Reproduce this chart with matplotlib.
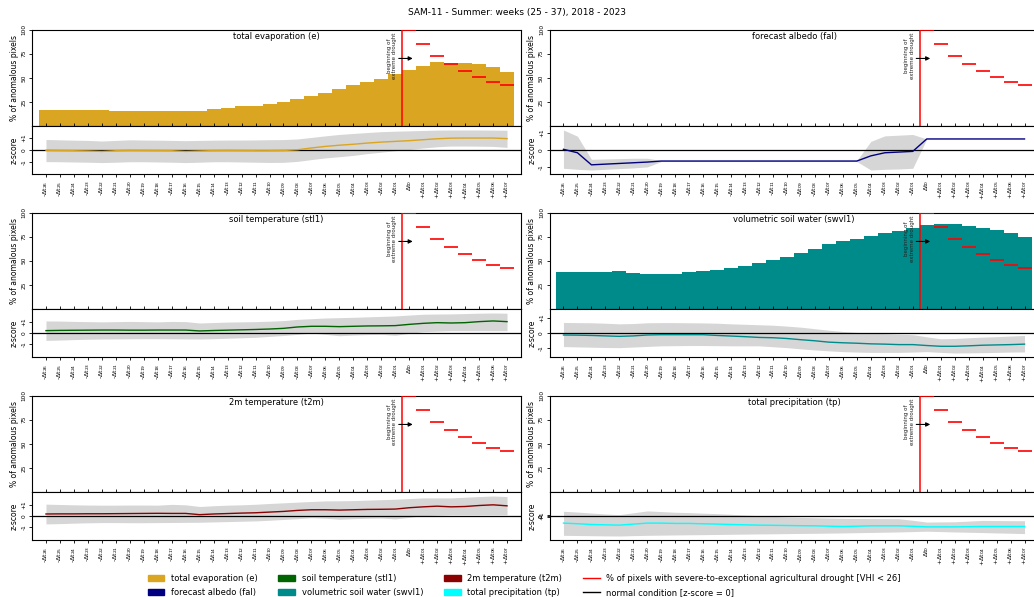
import matplotlib
matplotlib.use("Agg")
import matplotlib.pyplot as plt
from matplotlib.patches import Patch
from matplotlib.lines import Line2D

# ---- weeks relative to the onset of extreme drought ----
week_labels = ([f"-Δt$_{{{k:02d}}}$" for k in range(26, 0, -1)]
               + ["Δt$_0$"]
               + [f"+Δt$_{{{k:02d}}}$" for k in range(1, 8)])
onset_index = 26  # position of Δt0

# % of pixels with severe-to-exceptional agricultural drought (Δt0 ... +Δt07)
drought_pct = [100, 85, 72.5, 64.5, 57, 51, 46, 42]

variables = ["total evaporation (e)", "forecast albedo (fal)",
             "soil temperature (stl1)", "volumetric soil water (swvl1)",
             "2m temperature (t2m)", "total precipitation (tp)"]
colors = ["goldenrod", "navy", "darkgreen", "darkcyan", "darkred", "cyan"]

# % of anomalous pixels per week
pct_e = [16.6, 16.6, 16.6, 16.6, 16.6, 15.5, 15.5, 15.5, 15.5, 15.5, 15.5, 15.5,
         17.6, 18.6, 20.7, 20.7, 22.8, 24.8, 27.9, 31.0, 34.1, 38.3, 42.4, 45.5,
         48.6, 53.8, 57.9, 62.0, 66.2, 65.2, 65.2, 64.1, 61.0, 55.9]
pct_fal = [0] * 34
pct_stl1 = [0] * 34
pct_swvl1 = [38.4, 38.4, 38.4, 38.4, 39.4, 37.4, 36.3, 36.3, 36.3, 38.4, 39.4, 40.5,
             42.6, 44.6, 47.8, 50.9, 54.0, 58.1, 62.3, 67.5, 70.6, 72.7, 75.8, 78.9,
             81.0, 84.1, 87.2, 88.2, 88.2, 86.2, 84.1, 82.0, 78.9, 74.7]
pct_t2m = [0] * 34
pct_tp = [0] * 34

# z-score: median line and spread band (lower / upper)
z_e = [-0.02, -0.04, -0.06, -0.08, -0.12, -0.06, -0.03, -0.04, -0.05, -0.06, -0.12, -0.08,
       -0.05, -0.04, -0.05, -0.06, -0.06, -0.04, 0.02, 0.17, 0.30, 0.40, 0.48, 0.58,
       0.66, 0.72, 0.78, 0.86, 0.94, 0.99, 1.00, 1.00, 1.00, 0.95]
z_e_hi = [0.88, 0.85, 0.82, 0.80, 0.75, 0.80, 0.85, 0.83, 0.82, 0.80, 0.78, 0.80,
          0.82, 0.83, 0.83, 0.84, 0.86, 0.87, 0.92, 1.05, 1.18, 1.30, 1.38, 1.46,
          1.53, 1.57, 1.60, 1.63, 1.66, 1.67, 1.67, 1.67, 1.66, 1.65]
z_e_lo = [-0.97, -0.98, -1.00, -1.02, -1.05, -1.02, -0.98, -0.98, -1.00, -1.02, -1.05, -1.02,
          -0.98, -0.98, -1.00, -1.02, -1.04, -1.03, -0.95, -0.80, -0.66, -0.56, -0.45, -0.30,
          -0.18, -0.06, 0.04, 0.17, 0.27, 0.33, 0.33, 0.32, 0.30, 0.22]

z_fal = [0.04, -0.16, -0.86, -0.82, -0.78, -0.74, -0.70] + [-0.64] * 15 \
        + [-0.34, -0.16, -0.12, -0.08] + [0.64] * 8
z_fal_hi = [1.16, 0.80, -0.54, -0.52, -0.50, -0.48, -0.48] + [-0.61] * 15 \
           + [0.50, 0.82, 0.86, 0.90] + [0.64] * 8
z_fal_lo = [-1.06, -1.12, -1.16, -1.12, -1.08, -1.04, -0.98] + [-0.67] * 15 \
           + [-1.16, -1.12, -1.10, -1.06] + [0.64] * 8

z_stl1 = [0.21, 0.23, 0.24, 0.25, 0.26, 0.26, 0.25, 0.25, 0.26, 0.26, 0.26, 0.18,
          0.22, 0.25, 0.28, 0.31, 0.35, 0.41, 0.53, 0.59, 0.59, 0.56, 0.59, 0.62,
          0.63, 0.65, 0.76, 0.85, 0.91, 0.88, 0.91, 1.00, 1.06, 1.00]
z_stl1_hi = [1.06, 1.05, 1.02, 1.00, 0.98, 1.00, 1.02, 1.00, 0.98, 1.02, 1.00, 0.88,
             0.92, 0.96, 0.98, 1.00, 1.04, 1.09, 1.20, 1.26, 1.32, 1.35, 1.38, 1.42,
             1.46, 1.50, 1.58, 1.65, 1.67, 1.68, 1.71, 1.74, 1.76, 1.74]
z_stl1_lo = [-0.65, -0.62, -0.58, -0.55, -0.53, -0.52, -0.51, -0.50, -0.50, -0.51, -0.52, -0.53,
             -0.50, -0.46, -0.42, -0.38, -0.30, -0.22, -0.12, 0.00, -0.12, -0.24, -0.18, -0.14,
             -0.12, -0.20, -0.03, 0.12, 0.16, 0.20, 0.20, 0.20, 0.20, 0.20]

z_swvl1 = [-0.13, -0.14, -0.16, -0.19, -0.22, -0.19, -0.13, -0.11, -0.11, -0.11, -0.11, -0.16,
           -0.20, -0.24, -0.29, -0.31, -0.36, -0.44, -0.51, -0.60, -0.64, -0.67, -0.71, -0.73,
           -0.76, -0.76, -0.82, -0.87, -0.87, -0.84, -0.80, -0.78, -0.76, -0.73]
z_swvl1_hi = [0.69, 0.68, 0.67, 0.64, 0.60, 0.62, 0.67, 0.68, 0.68, 0.67, 0.66, 0.64,
              0.60, 0.57, 0.54, 0.51, 0.45, 0.38, 0.28, 0.18, 0.10, 0.04, 0.00, -0.04,
              -0.08, -0.11, -0.25, -0.38, -0.36, -0.31, -0.27, -0.24, -0.20, -0.16]
z_swvl1_lo = [-0.89, -0.91, -0.93, -0.95, -0.96, -0.92, -0.88, -0.84, -0.83, -0.82, -0.82, -0.83,
              -0.84, -0.84, -0.84, -0.90, -0.96, -1.04, -1.11, -1.17, -1.22, -1.25, -1.27, -1.27,
              -1.27, -1.25, -1.22, -1.27, -1.31, -1.30, -1.29, -1.27, -1.25, -1.24]

z_t2m = [0.18, 0.19, 0.19, 0.20, 0.20, 0.21, 0.22, 0.23, 0.24, 0.23, 0.23, 0.12,
         0.18, 0.22, 0.26, 0.29, 0.35, 0.41, 0.50, 0.56, 0.56, 0.53, 0.56, 0.59,
         0.60, 0.62, 0.74, 0.82, 0.88, 0.82, 0.85, 0.94, 1.00, 0.91]
z_t2m_hi = [1.06, 1.03, 1.00, 0.98, 0.97, 0.97, 0.98, 0.98, 0.97, 1.04, 1.00, 0.85,
            0.92, 0.97, 1.00, 1.05, 1.12, 1.18, 1.24, 1.30, 1.35, 1.36, 1.38, 1.42,
            1.46, 1.50, 1.56, 1.62, 1.62, 1.62, 1.68, 1.74, 1.79, 1.74]
z_t2m_lo = [-0.71, -0.68, -0.64, -0.61, -0.59, -0.59, -0.60, -0.60, -0.59, -0.58, -0.57, -0.56,
            -0.53, -0.50, -0.47, -0.44, -0.38, -0.31, -0.24, -0.15, -0.20, -0.29, -0.24, -0.20,
            -0.18, -0.26, -0.12, 0.03, 0.08, 0.12, 0.12, 0.12, 0.12, 0.12]

z_tp = [-11.6, -12.6, -13.8, -14.4, -14.9, -13.2, -11.6, -11.6, -12.1, -12.1, -12.7, -13.2,
        -13.8, -14.4, -14.9, -15.2, -15.5, -15.8, -16.0, -16.6, -17.1, -16.6, -16.0, -16.0,
        -16.0, -16.8, -17.7, -17.7, -17.7, -17.4, -17.1, -17.1, -17.1, -17.1]
z_tp_hi = [7.7, 6.4, 4.8, 3.3, 2.2, 5.2, 8.3, 7.2, 6.1, 5.5, 4.6, 3.8,
           2.8, 1.6, 0.5, -0.6, -1.7, -2.3, -2.8, -3.4, -3.9, -4.1, -4.2, -4.3,
           -4.4, -7.0, -9.9, -9.6, -9.4, -8.3, -7.2, -7.4, -7.6, -7.7]
z_tp_lo = [-31.5, -31.8, -32.1, -32.4, -32.6, -32.0, -31.5, -31.2, -30.9, -30.6, -30.4, -30.1,
           -29.8, -29.5, -29.2, -29.0, -28.7, -28.4, -28.2, -27.9, -27.6, -27.2, -26.8, -26.4,
           -26.0, -25.4, -24.8, -25.4, -26.0, -26.5, -27.0, -27.6, -28.1, -28.7]

pct_series = [pct_e, pct_fal, pct_stl1, pct_swvl1, pct_t2m, pct_tp]
z_series = [(z_e, z_e_lo, z_e_hi), (z_fal, z_fal_lo, z_fal_hi),
            (z_stl1, z_stl1_lo, z_stl1_hi), (z_swvl1, z_swvl1_lo, z_swvl1_hi),
            (z_t2m, z_t2m_lo, z_t2m_hi), (z_tp, z_tp_lo, z_tp_hi)]

# ---- figure layout ----
W, H = 1034, 597
fig = plt.figure(figsize=(W / 100, H / 100), dpi=100)
fig.suptitle("SAM-11 - Summer: weeks (25 - 37), 2018 - 2023", fontsize=6.5, y=1 - 12 / H, va="center")

col_left = [32 / W, 549.5 / W]
ax_w = 489 / W
bar_bottom = [1 - 126 / H, 1 - 309 / H, 1 - 492 / H]
bar_h = 96.5 / H
z_h = 48 / H

x = list(range(len(week_labels)))
onset_x = onset_index - 0.5

for i, name in enumerate(variables):
    r, c = divmod(i, 2)
    ax = fig.add_axes([col_left[c], bar_bottom[r], ax_w, bar_h])
    az = fig.add_axes([col_left[c], bar_bottom[r] - z_h, ax_w, z_h])

    # anomalous-pixel bars
    ax.bar(x, pct_series[i], width=1.0, color=colors[i], linewidth=0, zorder=1)
    ax.set_xlim(-1, 34)
    ax.set_ylim(0, 100)
    ax.set_yticks([25, 50, 75, 100])
    ax.set_yticklabels(["25", "50", "75", "100"], rotation=90, va="center")
    ax.set_xticks(x)
    ax.tick_params(axis="x", direction="in", length=2, labelbottom=False, width=0.6)
    ax.tick_params(axis="y", labelsize=4.2, length=2.5, pad=1.5, width=0.6)
    ax.set_ylabel("% of anomalous pixels", fontsize=5.5, labelpad=2)
    ax.text(0.5, 0.93, name, transform=ax.transAxes, ha="center", va="center", fontsize=6)

    # onset of extreme drought and drought extent afterwards
    ax.axvline(onset_x, color="red", lw=1.1, zorder=3)
    for k, v in enumerate(drought_pct):
        ax.hlines(v, onset_x + k, onset_x + k + 1, color="red", lw=1.2, zorder=3)
    ax.annotate("", xy=(onset_x + 0.75, 70), xytext=(onset_x - 0.25, 70),
                arrowprops=dict(arrowstyle="-|>", color="black", lw=0.8,
                                mutation_scale=6, shrinkA=0, shrinkB=0), zorder=4)
    ax.text(onset_x - 0.35, 73, "beginning of\nextreme drought", rotation=90, fontsize=4,
            ha="right", va="center", multialignment="center", color="#222222", zorder=4)

    # z-score panel
    zm, zlo, zhi = z_series[i]
    lim = 1.2 * max(max(abs(v) for v in zlo), max(abs(v) for v in zhi))
    az.fill_between(x, zlo, zhi, color="#d6d6d6", linewidth=0, zorder=1)
    az.plot(x, zm, color=colors[i], lw=1.0, zorder=3)
    az.axhline(0, color="black", lw=0.9, zorder=2)
    az.set_xlim(-1, 34)
    az.set_ylim(-lim, lim)
    az.set_yticks([-1, 0, 1])
    az.set_yticklabels(["-1", "0", "+1"], rotation=90, va="center")
    az.set_xticks(x)
    az.set_xticklabels(week_labels, rotation=90)
    az.tick_params(axis="x", labelsize=4.5, length=2.5, pad=2, width=0.6)
    az.tick_params(axis="y", labelsize=4.2, length=2.5, pad=1.5, width=0.6)
    az.set_ylabel("z-score", fontsize=5.5, labelpad=2)

# ---- legend ----
handles = [Patch(color=col) for col in colors] + [
    Line2D([], [], color="red", lw=1.0),
    Line2D([], [], color="black", lw=1.0)]
labels = variables + ["% of pixels with severe-to-exceptional agricultural drought [VHI < 26]",
                      "normal condition [z-score = 0]"]
fig.legend(handles, labels, loc="lower center", bbox_to_anchor=(0.507, -0.012), ncol=4,
           frameon=False, fontsize=6, handlelength=2.0, columnspacing=2.5,
           labelspacing=0.6)

fig.savefig("out.png", dpi=100)
